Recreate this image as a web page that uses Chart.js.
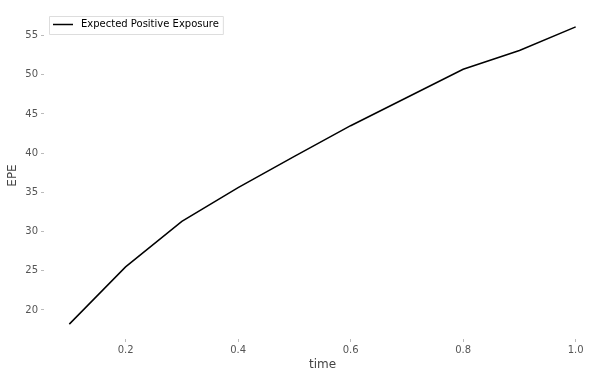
<!DOCTYPE html>
<html>
<head>
<meta charset="utf-8">
<script src="https://cdn.jsdelivr.net/npm/chart.js@4.4.0/dist/chart.umd.min.js"></script>
<style>
  html, body { margin: 0; padding: 0; background: #fff; }
  #wrap { width: 612px; height: 378px; }
</style>
</head>
<body>
<div id="wrap"><canvas id="myChart" width="612" height="378"></canvas></div>
<script>
const times = [0.1, 0.2, 0.3, 0.4, 0.5, 0.6, 0.7, 0.8, 0.9, 1.0];
const epe = [18.2, 25.5, 31.3, 35.6, 39.6, 43.5, 47.1, 50.7, 53.1, 56.1];
const xTicks = [0.2, 0.4, 0.6, 0.8, 1.0];
const yTicks = [20, 25, 30, 35, 40, 45, 50, 55];
const seriesName = 'Expected Positive Exposure';

const tickGray = '#555555';
const fontFamily = '"DejaVu Sans", sans-serif';

// legend box drawn inside the plot, like matplotlib's upper left legend
const boxLegend = {
  id: 'boxLegend',
  afterDraw(chart) {
    const ctx = chart.ctx;
    const area = chart.chartArea;
    const x = area.left + 5, y = area.top + 4;
    ctx.save();
    ctx.font = '10px ' + fontFamily;
    const w = 32 + ctx.measureText(seriesName).width + 4;
    const h = 18;
    ctx.fillStyle = 'rgba(255,255,255,0.8)';
    ctx.strokeStyle = '#dddddd';
    ctx.lineWidth = 1;
    ctx.beginPath();
    ctx.rect(x + 0.5, y + 0.5, w, h);
    ctx.fill();
    ctx.stroke();
    ctx.strokeStyle = '#000';
    ctx.lineWidth = 1.5;
    ctx.beginPath();
    ctx.moveTo(x + 4, y + 8.5);
    ctx.lineTo(x + 24, y + 8.5);
    ctx.stroke();
    ctx.fillStyle = '#000';
    ctx.textBaseline = 'middle';
    ctx.fillText(seriesName, x + 32, y + 8.5);
    ctx.restore();
  }
};

const data = {
  datasets: [{
    label: seriesName,
    data: times.map((t, i) => ({ x: t, y: epe[i] })),
    borderColor: '#000000',
    backgroundColor: '#000000',
    borderWidth: 1.5,
    pointRadius: 0,
    showLine: true,
    tension: 0
  }]
};

const config = {
  type: 'scatter',
  data: data,
  options: {
    responsive: false,
    animation: false,
    layout: { padding: { top: 12, right: 11, left: 0, bottom: 0 } },
    plugins: {
      legend: { display: false },
      tooltip: { enabled: false }
    },
    scales: {
      x: {
        type: 'linear',
        min: 0.055,
        max: 1.045,
        afterBuildTicks: (scale) => { scale.ticks = xTicks.map(v => ({ value: v })); },
        afterFit: (scale) => { scale.height = 39; },
        border: { display: false },
        grid: { drawOnChartArea: false, drawTicks: true, tickLength: 3, color: '#bbbbbb' },
        ticks: {
          color: tickGray,
          font: { family: fontFamily, size: 10 },
          padding: 2,
          maxRotation: 0,
          callback: (v) => Number(v).toFixed(1)
        },
        title: {
          display: true,
          text: 'time',
          color: '#444444',
          font: { family: fontFamily, size: 12 },
          padding: { top: 0, bottom: 6 }
        }
      },
      y: {
        type: 'linear',
        min: 16.3,
        max: 58.0,
        afterBuildTicks: (scale) => { scale.ticks = yTicks.map(v => ({ value: v })); },
        afterFit: (scale) => { scale.width = 44; },
        border: { display: false },
        grid: { drawOnChartArea: false, drawTicks: true, tickLength: 3, color: '#bbbbbb' },
        ticks: {
          color: tickGray,
          font: { family: fontFamily, size: 10 },
          padding: 3
        },
        title: {
          display: true,
          text: 'EPE',
          color: '#444444',
          font: { family: fontFamily, size: 12 },
          padding: { top: 6, bottom: 0 }
        }
      }
    }
  },
  plugins: [boxLegend]
};

const myChart = new Chart(document.getElementById('myChart'), config);
</script>
</body>
</html>
